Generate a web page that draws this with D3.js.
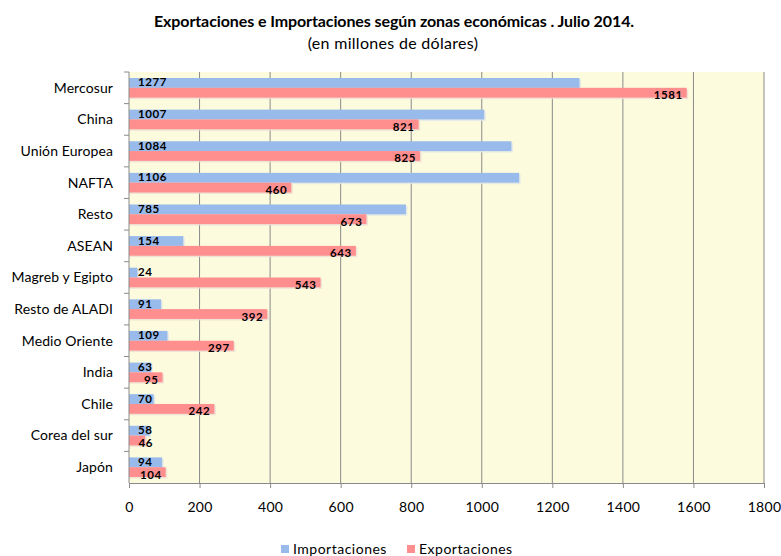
<!DOCTYPE html>
<html>
<head>
<meta charset="utf-8">
<script src="https://cdn.jsdelivr.net/npm/d3@7"></script>
<style>
  body { margin: 0; background: #fff; }
  svg { font-family: Lato, "Open Sans", sans-serif; }
</style>
</head>
<body>
<div id="chart"></div>
<script>
const categories = ['Mercosur', 'China', 'Unión Europea', 'NAFTA', 'Resto', 'ASEAN', 'Magreb y Egipto',
  'Resto de ALADI', 'Medio Oriente', 'India', 'Chile', 'Corea del sur', 'Japón'];
const importaciones = [1277, 1007, 1084, 1106, 785, 154, 24, 91, 109, 63, 70, 58, 94];
const exportaciones = [1581, 821, 825, 460, 673, 643, 543, 392, 297, 95, 242, 46, 104];
const xTicks = [0, 200, 400, 600, 800, 1000, 1200, 1400, 1600, 1800];

let width = 781, height = 556;
let margin = {top: 72, right: 17, bottom: 73, left: 129};
let innerW = width - margin.left - margin.right,
    innerH = height - margin.top - margin.bottom;

let svg = d3.select('#chart').append('svg')
    .attr('width', width)
    .attr('height', height);

// titles
svg.append('text')
    .attr('x', 394).attr('y', 27)
    .attr('text-anchor', 'middle')
    .style('font-size', '16px').style('font-weight', 'bold')
    .style('letter-spacing', '-0.1px')
    .text('Exportaciones e Importaciones según zonas económicas . Julio 2014.');
svg.append('text')
    .attr('x', 393).attr('y', 49)
    .attr('text-anchor', 'middle')
    .style('font-size', '16px')
    .style('letter-spacing', '0.3px')
    .text('(en millones de dólares)');

let g = svg.append('g').attr('transform', 'translate(' + margin.left + ',' + margin.top + ')');

let x = d3.scaleLinear().domain([0, 1800]).range([0, innerW]);
let y = d3.scaleBand().domain(categories).range([0, innerH]);
let sub = d3.scaleBand().domain(['imp', 'exp']).range([y.bandwidth() * 0.19, y.bandwidth() * 0.81]);

// plot background
g.append('rect')
    .attr('width', innerW).attr('height', innerH)
    .attr('fill', '#fdfbdd');

// gridlines
g.append('g')
    .selectAll('line')
    .data(xTicks.slice(1))
    .enter()
    .append('line')
        .attr('x1', d => x(d)).attr('x2', d => x(d))
        .attr('y1', 0).attr('y2', innerH)
        .attr('stroke', '#8a8a8a').attr('stroke-width', 1);

let rows = categories.map((c, i) => ({cat: c, imp: importaciones[i], exp: exportaciones[i]}));

// shadows
['imp', 'exp'].forEach(k => {
    g.append('g')
        .selectAll('rect')
        .data(rows)
        .enter()
        .append('rect')
            .attr('x', 0)
            .attr('y', d => y(d.cat) + sub(k) + 1.5)
            .attr('width', d => x(d[k]) + 1.5)
            .attr('height', sub.bandwidth())
            .attr('fill', k === 'imp' ? '#dfe6e8' : '#ecdcd2')
            .attr('opacity', 0.8);
});

// bars
g.append('g')
    .selectAll('rect')
    .data(rows)
    .enter()
    .append('rect')
        .attr('x', 0)
        .attr('y', d => y(d.cat) + sub('imp'))
        .attr('width', d => x(d.imp))
        .attr('height', sub.bandwidth())
        .attr('fill', '#98bbec');

g.append('g')
    .selectAll('rect')
    .data(rows)
    .enter()
    .append('rect')
        .attr('x', 0)
        .attr('y', d => y(d.cat) + sub('exp'))
        .attr('width', d => x(d.exp))
        .attr('height', sub.bandwidth())
        .attr('fill', '#ff8e8e');

// value labels
g.append('g')
    .selectAll('text')
    .data(rows)
    .enter()
    .append('text')
        .attr('x', 9)
        .attr('y', d => y(d.cat) + sub('imp') + sub.bandwidth() / 2 - 0.5)
        .attr('dy', '0.35em')
        .style('font-size', '11.5px').style('font-weight', 'bold')
        .style('letter-spacing', '0.6px')
        .text(d => d.imp);

g.append('g')
    .selectAll('text')
    .data(rows)
    .enter()
    .append('text')
        .attr('x', d => Math.max(x(d.exp) - 4, 9 + String(d.exp).length * 7.5))
        .attr('y', d => y(d.cat) + sub('exp') + sub.bandwidth() / 2 + 2.5)
        .attr('dy', '0.35em')
        .attr('text-anchor', 'end')
        .style('font-size', '11.5px').style('font-weight', 'bold')
        .style('letter-spacing', '0.6px')
        .text(d => d.exp);

// left axis
g.append('line')
    .attr('x1', 0).attr('x2', 0).attr('y1', 0).attr('y2', innerH)
    .attr('stroke', '#8a8a8a');
g.append('g')
    .selectAll('line')
    .data(categories)
    .enter()
    .append('line')
        .attr('x1', -5).attr('x2', 0)
        .attr('y1', d => y(d)).attr('y2', d => y(d))
        .attr('stroke', '#8a8a8a');
g.append('g')
    .selectAll('text')
    .data(categories)
    .enter()
    .append('text')
        .attr('x', -16)
        .attr('y', d => y(d) + y.bandwidth() / 2)
        .attr('dy', '0.35em')
        .attr('text-anchor', 'end')
        .style('font-size', '14px')
        .style('letter-spacing', '0.1px')
        .text(d => d);

// bottom axis
let xAxis = g.append('g')
    .attr('transform', 'translate(0,' + innerH + ')')
    .call(d3.axisBottom(x).tickValues(xTicks).tickSize(5).tickPadding(14).tickFormat(d3.format('d')));
xAxis.select('.domain').attr('stroke', '#8a8a8a');
xAxis.selectAll('.tick line').attr('stroke', '#8a8a8a');
xAxis.selectAll('text').style('font-size', '14px').style('letter-spacing', '0.3px')
    .style('font-family', 'Lato, "Open Sans", sans-serif').attr('fill', '#000');

// legend
let legend = svg.append('g').attr('transform', 'translate(0,549)');
[['Importaciones', '#98bbec', 281], ['Exportaciones', '#ff8e8e', 407]].forEach(item => {
    legend.append('rect')
        .attr('x', item[2]).attr('y', -4)
        .attr('width', 8).attr('height', 8)
        .attr('fill', item[1]);
    legend.append('text')
        .attr('x', item[2] + 12).attr('y', 0)
        .attr('dy', '0.35em')
        .style('font-size', '14px')
        .style('letter-spacing', '0.5px')
        .text(item[0]);
});
</script>
</body>
</html>
